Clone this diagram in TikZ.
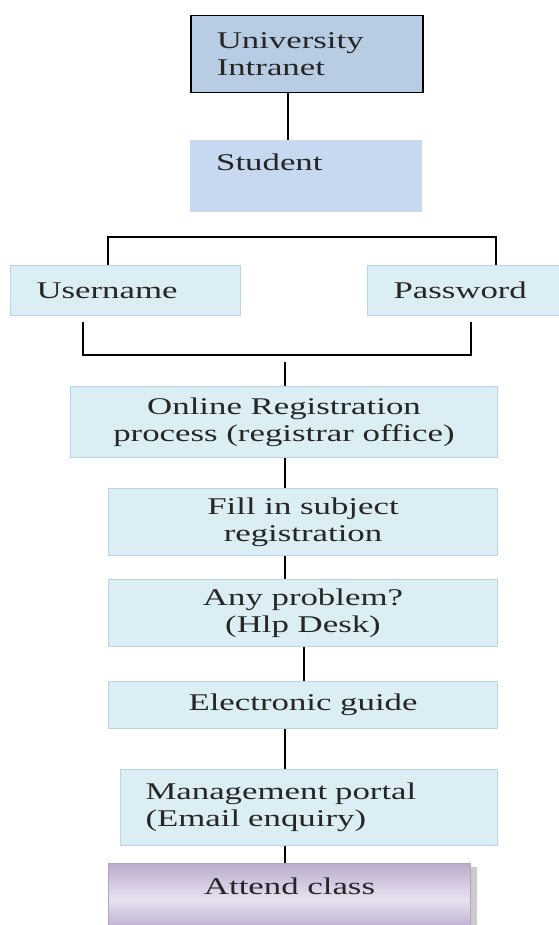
\documentclass[tikz,border=0pt]{standalone}
\usepackage{fontspec}
\setmainfont{Liberation Serif}[FakeStretch=1.45]
\usepackage{tikz}
\usetikzlibrary{shadows}

\definecolor{intranetblue}{HTML}{B8CCE4}
\definecolor{studentblue}{HTML}{C6D9F1}
\definecolor{stepfill}{HTML}{DBEEF4}
\definecolor{stepline}{HTML}{BCD3EC}
\definecolor{lavdark}{HTML}{B3A2C7}
\definecolor{lavlight}{HTML}{E8E2F0}

\tikzset{
  box/.style={rectangle, anchor=north west, inner ysep=0pt, font=\fontsize{24}{27}\selectfont, text=black!85},
  stepbox/.style={box, fill=stepfill, draw=stepline, line width=1pt},
  link/.style={line width=1.3pt},
}

\begin{document}
\begin{tikzpicture}[x=1pt, y=-1pt]
    \useasboundingbox (0,0) rectangle (558,925);

    % top of the tree
    \node[box, draw=black, line width=1.5pt, fill=intranetblue, minimum height=77pt, text width=180pt, inner xsep=26pt, align=left] (intranet) at (190,15) {University\\Intranet};
    \node[box, fill=studentblue, text width=180pt, inner xsep=26pt, text height=30pt, text depth=42pt, align=left] (student) at (190,140) {Student};
    \coordinate (top) at (288,0);
    \draw[link] (intranet.south -| top) -- (student.north -| top);

    % login fields
    \node[stepbox, text width=178pt, inner xsep=26pt, minimum height=50pt, align=left] (username) at (10,265) {Username};
    \node[stepbox, text width=150pt, inner xsep=26pt, minimum height=50pt, align=left] (password) at (367,265) {Password};

    % brackets round the login fields
    \coordinate (upleft) at (108,237);
    \coordinate (upright) at (496,237);
    \draw[link] (username.north -| upleft) -- (upleft) -- (upright) -- (password.north -| upright);
    \coordinate (lowleftend) at (83,322);
    \coordinate (lowleft) at (83,355);
    \coordinate (lowright) at (471,355);
    \coordinate (lowrightend) at (471,322);
    \draw[link] (lowleftend) -- (lowleft) -- (lowright) -- (lowrightend);

    % registration steps
    \node[stepbox, minimum width=427pt, minimum height=71pt, align=center] (online) at (70,386) {Online Registration\\process (registrar office)};
    \node[stepbox, minimum width=389pt, minimum height=67pt, align=center] (subject) at (108,488) {Fill in subject\\registration};
    \node[stepbox, minimum width=389pt, minimum height=67pt, align=center] (helpdesk) at (108,579) {Any problem?\\(Hlp Desk)};
    \node[stepbox, minimum width=389pt, minimum height=47pt] (guide) at (108,681) {Electronic guide};
    \node[stepbox, text width=327pt, inner xsep=25pt, minimum height=76pt, align=left] (portal) at (120,769) {Management portal\\(Email enquiry)};

    % last step
    \node[box, draw=lavdark, line width=1pt, top color=lavdark!90, bottom color=lavdark, middle color=lavlight,
          drop shadow={shadow xshift=6pt, shadow yshift=-3pt, fill=black!40, opacity=.5},
          minimum width=362pt, text height=31pt, text depth=41pt] (attend) at (108,863) {Attend class};

    % links between the steps
    \coordinate (join) at (285,362);
    \coordinate (spine) at (285,0);
    \coordinate (offspine) at (304,0);
    \draw[link] (join) -- (online.north -| join);
    \draw[link] (online.south -| spine) -- (subject.north -| spine);
    \draw[link] (subject.south -| spine) -- (helpdesk.north -| spine);
    \draw[link] (helpdesk.south -| offspine) -- (guide.north -| offspine);
    \draw[link] (guide.south -| spine) -- (portal.north -| spine);
    \draw[link] (portal.south -| spine) -- (attend.north -| spine);

\end{tikzpicture}
\end{document}
